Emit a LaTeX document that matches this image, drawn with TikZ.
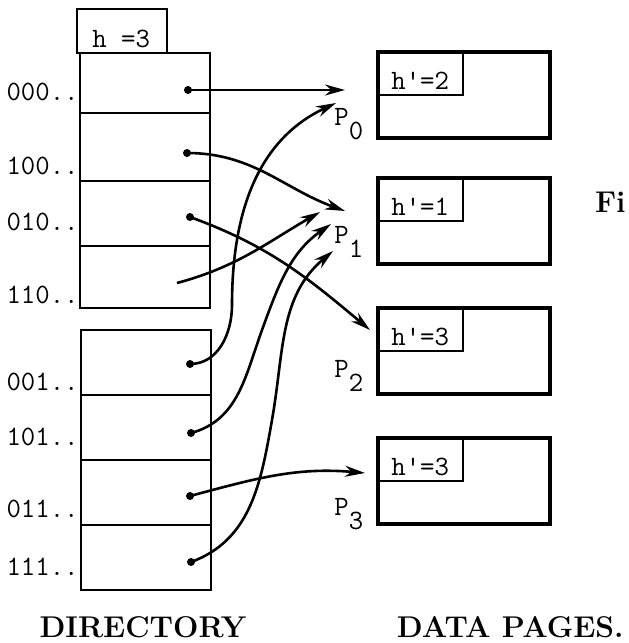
\documentclass[tikz,border=0pt]{standalone}
\usetikzlibrary{arrows.meta}
\tikzset{
  ptr/.style={line width=1.3pt,-{Stealth[length=10pt,width=5.5pt]}},
  box/.style={line width=1.4pt},
  page/.style={line width=2pt},
  tt/.style={font=\fontsize{14}{16}\ttfamily,inner sep=0pt},
  bit/.style={tt,anchor=base east},
  lbl/.style={font=\fontsize{15}{18}\bfseries,inner sep=0pt,anchor=base},
}
\newcommand{\pname}[1]{P\lower7pt\hbox{#1}}
\begin{document}
\begin{tikzpicture}[x=0.5pt,y=-0.5pt]
  \useasboundingbox (0,0) rectangle (628,643);
  % directory
  \draw[box] (77,53) rectangle (167,9);
  \node[tt,anchor=base west] (hdr) at (92,47) {h =3};
  \draw[box] (80,53) rectangle (210,308);
  \foreach \y in {113,181,246} \draw[box] (80,\y) -- (210,\y);
  \draw[box] (81,330) rectangle (211,590);
  \foreach \y in {395,460,525} \draw[box] (81,\y) -- (211,\y);
  \foreach \t/\y in {000/100,100/174,010/230,110/303,001/390,101/445,011/517,111/575}
    \node[bit] (b\t) at (79,\y) {\t..};
  \coordinate (s000) at (188,90);
  \coordinate (s100) at (187,153);
  \coordinate (s010) at (190,217);
  \coordinate (s110) at (177,283);
  \coordinate (s001) at (190,364);
  \coordinate (s101) at (191,433);
  \coordinate (s011) at (190,496);
  \coordinate (s111) at (191,562);
  \foreach \s in {000,100,010,001,101,011,111} \fill (s\s) circle (2pt);
  % data pages
  \foreach \n/\y/\h/\p in {0/52/2/125,1/178/1/243,2/308/3/377,3/438/3/515} {
    \draw[page] (378,\y) rectangle +(172,86);
    \draw[box] (378,\y) rectangle +(85,43);
    \node[tt,anchor=base west] (h\n) at (391,\y+37) {h\textquotesingle=\h};
    \node[tt,anchor=base west] (p\n) at (334,\p) {\pname{\n}};
  }
  \coordinate (t0a) at (345,90);
  \coordinate (t0b) at (336,103);
  \coordinate (t1a) at (345,211);
  \coordinate (t1b) at (320,212);
  \coordinate (t1c) at (331,224);
  \coordinate (t1d) at (333,251);
  \coordinate (t2) at (370,330);
  \coordinate (t3) at (365,473);
  % pointers
  \draw[ptr] (s000) -- (t0a);
  \draw[ptr] (s100) to[out=0,in=160] (t1a);
  \draw[ptr] (s010) to[out=-20,in=140] (t2);
  \draw[ptr] (s110) to[out=15,in=210] (t1b);
  \draw[ptr] (s001) to[out=0,in=-90] (232,305) to[out=90,in=205] (t0b);
  \draw[ptr] (s101) to[out=15,in=-110] (262,330) to[out=70,in=215] (t1c);
  \draw[ptr] (s111) to[out=20,in=-100] (272,420) to[out=80,in=220] (t1d);
  \draw[ptr] (s011) to[out=15,in=175] (t3);
  \node[lbl] (dir) at (143,637) {DIRECTORY};
  \node[lbl,anchor=base east] (dat) at (624,637) {DATA PAGES.};
  \node[lbl,anchor=base east] (fig) at (626,212) {Fi};
\end{tikzpicture}
\end{document}
